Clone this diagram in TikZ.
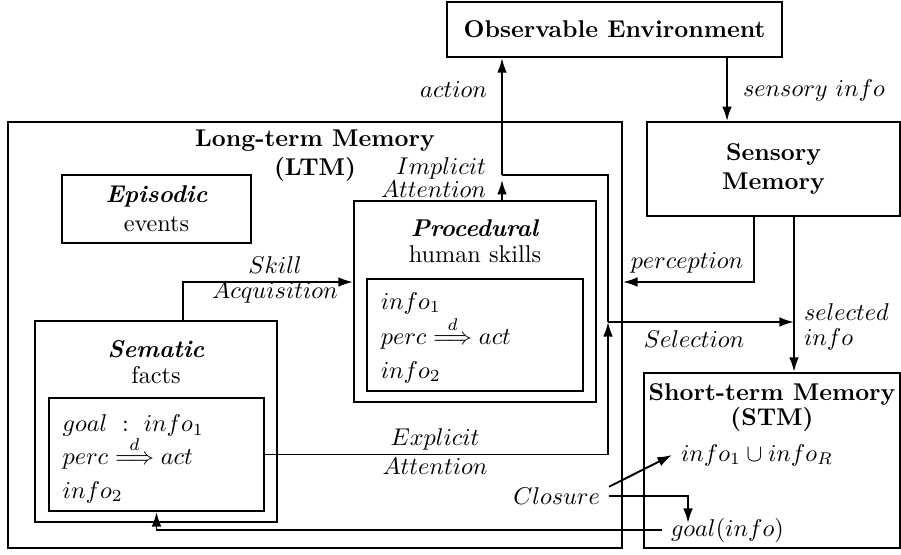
\documentclass[tikz,border=0pt]{standalone}
\usepackage{amsmath}
\usepackage{tikz}
\usetikzlibrary{arrows.meta}
\usetikzlibrary{positioning}

\begin{document}
\begin{tikzpicture}[x=0.0145cm, y=-0.0145cm, thick, >={Latex[length=6pt,width=4pt]}]
  \useasboundingbox (0,0) rectangle (901,554);

  \node[draw, font=\bfseries, minimum width=4.86cm, minimum height=0.80cm] (env) at (614.5,29.5) {Observable Environment};
  \node[draw, font=\bfseries, align=center, minimum width=3.67cm, minimum height=1.36cm] (sens) at (773.5,169) {Sensory\\Memory};
  \node[draw, minimum width=8.90cm, minimum height=6.18cm] (ltm) at (315,335) {};
  \node[draw, minimum width=3.71cm, minimum height=2.54cm] (stm) at (772,460.5) {};
  \node[draw, align=center, minimum width=2.74cm, minimum height=0.99cm] (epi) at (156.5,209) {\textbf{\textit{Episodic}}\\events};
  \node[draw, minimum width=3.51cm, minimum height=2.91cm] (proc) at (475,301.5) {};
  \node[draw, minimum width=3.51cm, minimum height=2.91cm] (sem) at (156,421.5) {};
  \node[draw, text width=2.73cm, inner xsep=0.2cm, minimum height=1.57cm, align=left] (procin) at (475,335)
    {\rule{0pt}{9pt}$info_1$\\[0pt] $perc \stackrel{d}{\Longrightarrow} act$\\[2pt] $info_2$};
  \node[draw, text width=2.72cm, inner xsep=0.2cm, minimum height=1.58cm, align=left] (semin) at (156.5,454.5)
    {\rule{0pt}{10.5pt}$goal \ : \ info_1$\\[-1pt] $perc \stackrel{d}{\Longrightarrow} act$\\[2pt] $info_2$};

  \node[below=0pt of ltm.north, font=\bfseries, align=center] (ltmt) {Long-term Memory\\(LTM)};
  \node[below=1pt of stm.north, font=\bfseries, align=center] (stmt) {Short-term Memory\\[-1.5pt](STM)};
  \node[below=4.5pt of proc.north, align=center] (proct) {\textbf{\textit{Procedural}}\\[-1.3pt]human skills};
  \node[below=4.5pt of sem.north, align=center] (semt) {\textbf{\textit{Sematic}}\\[-1.3pt]facts};

  \node[anchor=east] (actl) at (496,90) {$action$};
  \node[anchor=west] (sensl) at (734,90) {$sensory\ info$};
  \node[align=right, anchor=east] (impl) at (495,178) {$Implicit$\\[-2.5pt]$Attention$};
  \node[align=center] (skilll) at (275,280) {$Skill$\\[-1.7pt]$Acquisition$};
  \node (percl) at (687,263) {$perception$};
  \node (sell) at (694,339) {$Selection$};
  \node[align=left, anchor=west] (sinfol) at (795,327) {$selected$\\[-1.7pt]$info$};
  \node[align=center] (expl) at (435,452) {$Explicit$\\$Attention$};
  \node[anchor=east] (clos) at (609,496) {$Closure$};
  \node[anchor=west] (union) at (672,455) {$info_1 \cup info_R$};
  \node[anchor=west] (goal) at (662,530) {$goal(info)$};

  \coordinate (jimp) at (502,175);
  \coordinate (jsel) at (608,322);
  \coordinate (sensin) at (727,0);
  \coordinate (pcorner) at (754,282);
  \coordinate (sinfo) at (794,322);
  \coordinate (skill) at (183,282);
  \coordinate (gin) at (688,523);

  \draw[->, shorten >=2pt] (proc.north -| jimp) -- (jimp);
  \draw[->] (jimp) -- (env.south -| jimp);
  \draw (jimp) -- (jimp -| jsel) -- (jsel);
  \draw[->] (env.south -| sensin) -- (sens.north -| sensin);
  \draw[->] (sens.south -| pcorner) -- (pcorner) -- (ltm.east |- pcorner);
  \draw[->] (sens.south -| sinfo) -- (stm.north -| sinfo);
  \draw[->] (jsel) -- (sinfo);
  \draw[->] (semin.east) -- (semin.east -| jsel) -- (jsel);
  \draw[->] (sem.north -| skill) -- (skill) -- (proc.west |- skill);
  \draw[->] (clos.10) -- (union.west);
  \draw[->] (clos.east) -| (gin);
  \draw[->] (goal.west) -| (semin.south);
\end{tikzpicture}
\end{document}
